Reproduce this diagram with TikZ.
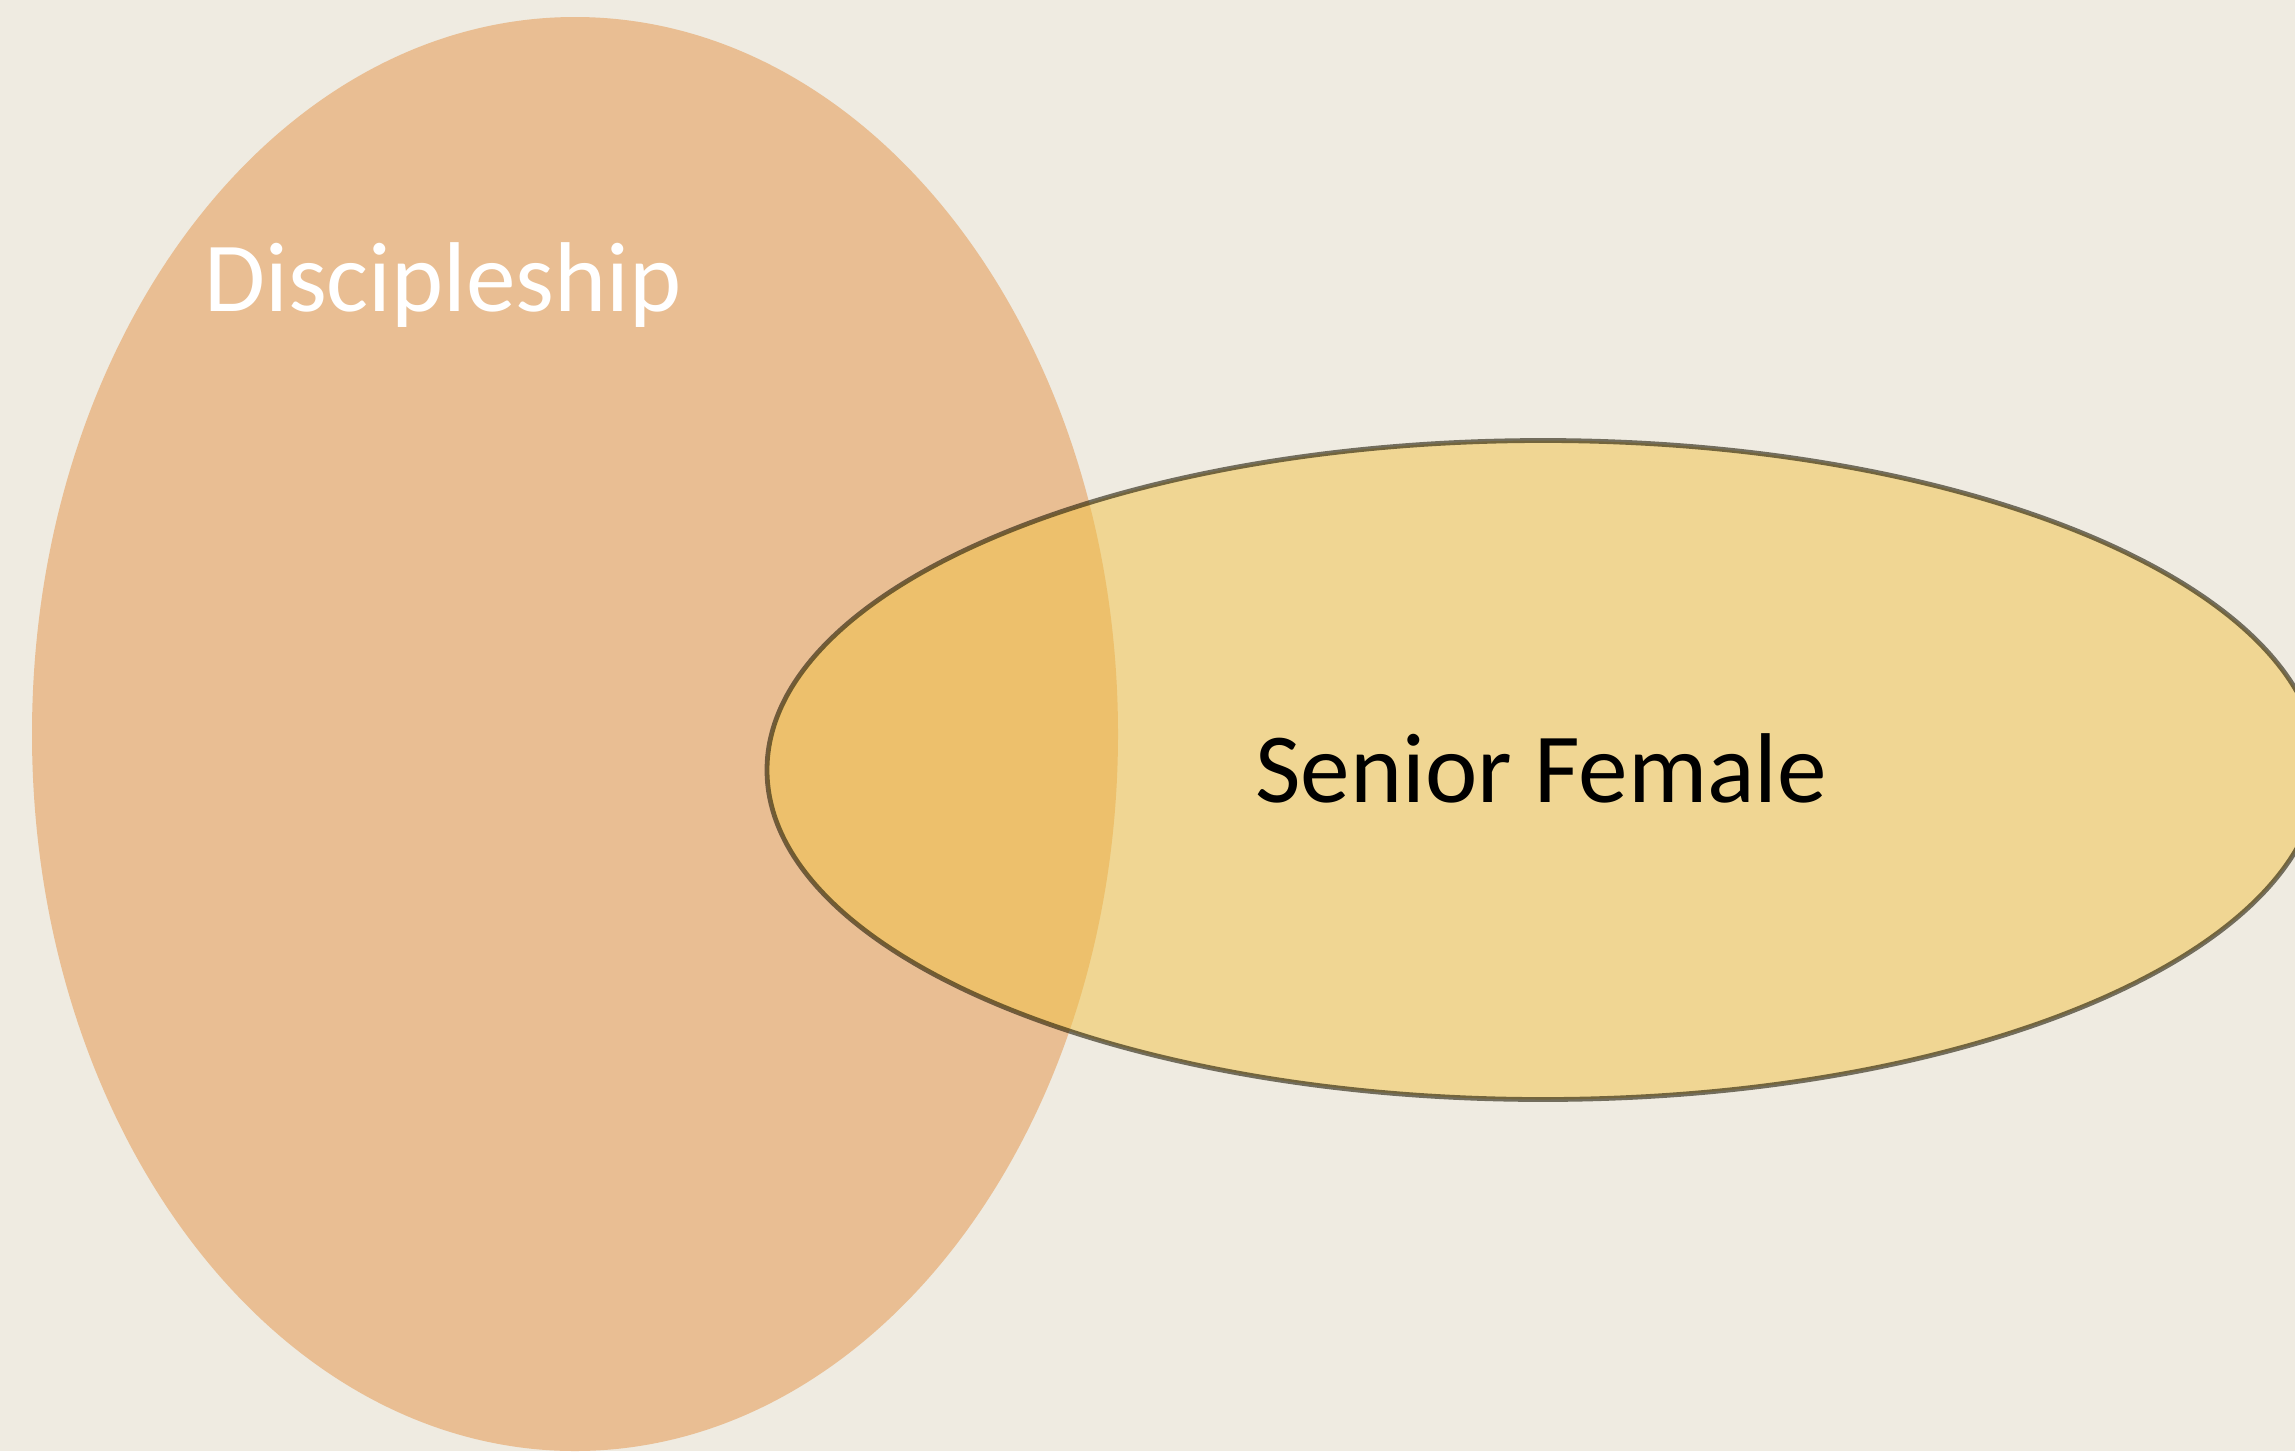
\documentclass[tikz,border=0pt]{standalone}
\usepackage{fontspec}
\setmainfont{Carlito}
\usetikzlibrary{shapes.geometric}
\definecolor{bgc}{RGB}{239,235,225}
\definecolor{discfill}{RGB}{233,190,147}
\definecolor{seniorfill}{RGB}{241,195,71}
\definecolor{seniorline}{RGB}{32,26,5}
\tikzset{
  setshape/.style={ellipse, inner sep=0pt, outer sep=0pt},
  biglabel/.style={font=\fontsize{49.6}{58}\selectfont, inner sep=0pt, anchor=base west}
}
\begin{document}
\begin{tikzpicture}[x=0.5pt,y=-0.5pt]
  \fill[bgc] (0,0) rectangle (2295,1451);
  \useasboundingbox (0,0) rectangle (2295,1451);
  \clip (0,0) rectangle (2295,1451);
  \node[setshape, fill=discfill, minimum width=543pt, minimum height=717pt] (disc) at (575,734) {};
  \node[setshape, fill=seniorfill, fill opacity=0.5, draw=seniorline, draw opacity=0.6, line width=2.4pt,
        minimum width=776pt, minimum height=329.5pt] (senior) at (1543,770) {};
  \node[biglabel, text=white] (disclabel) at (204,311) {Discipleship};
  \node[biglabel, text=black] (seniorlabel) at (1255,802) {Senior Female};
\end{tikzpicture}
\end{document}
